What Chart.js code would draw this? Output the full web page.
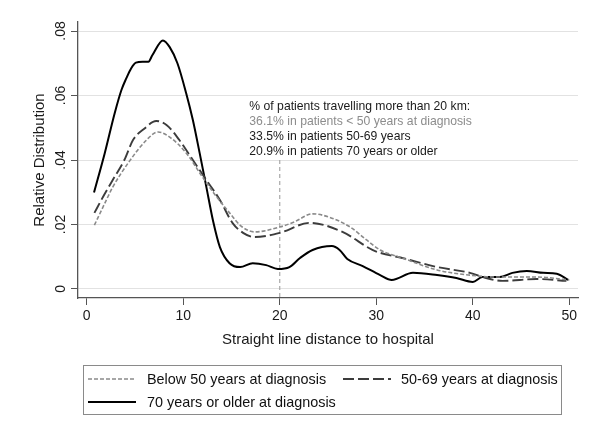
<!DOCTYPE html>
<html lang="en">
<head>
<meta charset="UTF-8">
<title>Relative distribution of distance to hospital</title>
<script src="https://cdn.jsdelivr.net/npm/chart.js"></script>
<style>
  body { margin: 0; background: #fff; font-family: "Liberation Sans", Arial, sans-serif; }
  #wrap { position: relative; width: 601px; height: 421px; }
  #legend { position: absolute; left: 83px; top: 365px; width: 477px; height: 48px; border: 1px solid #8a8a8a; }
  .item { position: absolute; height: 20px; font-size: 14.4px; color: #111; line-height: 20px; white-space: nowrap; }
  .item svg { position: absolute; top: 0; }
  .item span { position: absolute; top: 0; }
</style>
</head>
<body>
<div id="wrap">
  <canvas id="chart" width="601" height="421"></canvas>
  <div id="legend"></div>
</div>
<script>
// distances (km) and density
const distUnder50 = [0.8, 2.2, 2.7, 4.4, 6.2, 7.4, 8.6, 10.3, 12.0, 13.1, 14.8, 16.0, 17.4, 20, 21.5, 23.4, 25.2, 27.3, 29.0, 30.4, 32.7, 36.3, 39.7, 42.5, 46.6, 50];
const densUnder50 = [0.0198, 0.0286, 0.0316, 0.0395, 0.0462, 0.0487, 0.0471, 0.0422, 0.0347, 0.030, 0.0236, 0.0195, 0.0177, 0.0192, 0.0208, 0.0233, 0.0222, 0.0192, 0.0152, 0.0121, 0.0096, 0.0059, 0.0043, 0.0037, 0.0037, 0.0028];

const dist50to69 = [0.8, 1.7, 2.7, 3.9, 4.8, 6.0, 7.2, 8.3, 9.6, 11, 12.4, 13.8, 15.1, 16.2, 17.4, 20, 23.1, 26.5, 29.6, 30.4, 32.7, 36.3, 39.7, 41, 43.1, 46.6, 49.7];
const dens50to69 = [0.0236, 0.0286, 0.0338, 0.040, 0.0462, 0.0498, 0.0521, 0.0508, 0.0462, 0.040, 0.0338, 0.0276, 0.0205, 0.0174, 0.0161, 0.0174, 0.0205, 0.0177, 0.0121, 0.0112, 0.0096, 0.0068, 0.005, 0.0037, 0.0025, 0.0031, 0.0025];

const dist70plus = [0.76, 1.87, 2.9, 3.6, 4.1, 4.6, 5.1, 5.8, 6.4, 6.8, 7.9, 8.6, 9.4, 10.3, 11.0, 11.7, 12.4, 13.1, 13.8, 14.8, 15.9, 17.2, 18.6, 19.8, 21, 22.1, 23.4, 25.4, 26.2, 27, 28.6, 30.4, 31.6, 33.8, 36.3, 38.3, 40, 41, 42.8, 44.1, 45.6, 47.3, 48.7, 49.9];
const dens70plus = [0.0299, 0.0421, 0.0545, 0.0617, 0.0653, 0.0684, 0.0702, 0.0705, 0.0705, 0.0725, 0.0771, 0.075, 0.070, 0.0608, 0.0524, 0.0422, 0.0316, 0.021, 0.013, 0.008, 0.0068, 0.008, 0.0074, 0.0062, 0.0068, 0.0096, 0.0121, 0.0133, 0.0121, 0.0093, 0.0071, 0.0043, 0.0028, 0.005, 0.0043, 0.0034, 0.0022, 0.0037, 0.0037, 0.005, 0.0056, 0.005, 0.0047, 0.0028];

const seriesNames = ['Below 50 years at diagnosis', '50-69 years at diagnosis', '70 years or older at diagnosis'];

const xTicks = [0, 10, 20, 30, 40, 50];
const yTicks = [0, 0.02, 0.04, 0.06, 0.08];
const yTickLabels = ['0', '.02', '.04', '.06', '.08'];

const cutoffKm = 20;
const noteLines = [
  '% of patients travelling more than 20 km:',
  '36.1% in patients < 50 years at diagnosis',
  '33.5% in patients 50-69 years',
  '20.9% in patients 70 years or older'
];
const noteColors = ['#1a1a1a', '#8c8c8c', '#1a1a1a', '#1a1a1a'];

const FONT = '"Liberation Sans", Arial, sans-serif';

function pts(xs, ys) { return xs.map((x, i) => ({ x: x, y: ys[i] })); }

// extra drawing: rotated y labels, the 20 km line and the note
const overlay = {
  id: 'overlay',
  beforeDatasetsDraw(chart) {
    const { ctx, scales: { x, y }, chartArea } = chart;
    const px = x.getPixelForValue(cutoffKm);
    ctx.save();
    ctx.strokeStyle = '#a8a8a8';
    ctx.lineWidth = 1.2;
    ctx.setLineDash([4, 3]);
    ctx.beginPath();
    ctx.moveTo(px, y.getPixelForValue(0.04));
    ctx.lineTo(px, chartArea.bottom);
    ctx.stroke();
    ctx.restore();
  },
  afterDraw(chart) {
    const { ctx, scales: { x, y } } = chart;
    ctx.save();
    ctx.font = '14px ' + FONT;
    ctx.fillStyle = '#1a1a1a';
    ctx.textAlign = 'center';
    ctx.textBaseline = 'middle';
    yTicks.forEach((v, i) => {
      ctx.save();
      ctx.translate(61, y.getPixelForValue(v));
      ctx.rotate(-Math.PI / 2);
      ctx.fillText(yTickLabels[i], 0, 0);
      ctx.restore();
    });
    ctx.font = '12.2px ' + FONT;
    ctx.textAlign = 'left';
    const tx = x.getPixelForValue(16.85);
    const ty = y.getPixelForValue(0.0564);
    noteLines.forEach((t, i) => {
      ctx.fillStyle = noteColors[i];
      ctx.fillText(t, tx, ty + i * 14.7);
    });
    ctx.restore();
  }
};

const ctx = document.getElementById('chart').getContext('2d');
const chart = new Chart(ctx, {
  type: 'line',
  data: {
    datasets: [{
      label: seriesNames[0],
      data: pts(distUnder50, densUnder50),
      borderColor: '#8a8a8a',
      borderWidth: 1.6,
      borderDash: [4, 2]
    }, {
      label: seriesNames[1],
      data: pts(dist50to69, dens50to69),
      borderColor: '#3c3c3c',
      borderWidth: 1.9,
      borderDash: [11, 4]
    }, {
      label: seriesNames[2],
      data: pts(dist70plus, dens70plus),
      borderColor: '#000000',
      borderWidth: 2
    }]
  },
  options: {
    responsive: false,
    animation: false,
    devicePixelRatio: 1,
    layout: { padding: { left: 0, top: 22, right: 23, bottom: 63 } },
    elements: {
      point: { radius: 0 },
      line: { cubicInterpolationMode: 'monotone', fill: false }
    },
    plugins: { legend: { display: false }, tooltip: { enabled: false } },
    scales: {
      x: {
        type: 'linear',
        min: -0.9,
        max: 50.9,
        afterBuildTicks: s => { s.ticks = xTicks.map(v => ({ value: v })); },
        afterFit: s => { s.height = 60; },
        grid: { drawOnChartArea: false, drawTicks: true, tickLength: 7, tickColor: '#555', lineWidth: 1 },
        border: { color: '#555', width: 1.3 },
        ticks: { font: { family: FONT, size: 14 }, color: '#1a1a1a', padding: 3, maxRotation: 0 },
        title: { display: true, text: 'Straight line distance to hospital', font: { family: FONT, size: 15 }, color: '#1a1a1a', padding: { top: 0, bottom: 9 } }
      },
      y: {
        type: 'linear',
        min: -0.0028,
        max: 0.0828,
        afterBuildTicks: s => { s.ticks = yTicks.map(v => ({ value: v })); },
        afterFit: s => { s.width = 78; },
        grid: { color: '#e2e2e2', lineWidth: 1, drawTicks: true, tickLength: 7, tickColor: '#555' },
        border: { color: '#555', width: 1.3 },
        ticks: { display: false },
        title: { display: true, text: 'Relative Distribution', font: { family: FONT, size: 15 }, color: '#1a1a1a', padding: { top: 31, bottom: 0 } }
      }
    }
  },
  plugins: [overlay]
});

// legend box below the plot
const legend = document.getElementById('legend');
const samples = [
  { left: 4, top: 3, dash: '4 2', color: '#8a8a8a', w: 1.6, textLeft: 63 },
  { left: 259, top: 3, dash: '11 4', color: '#3c3c3c', w: 1.9, textLeft: 317 },
  { left: 4, top: 26, dash: '', color: '#000', w: 2, textLeft: 63 }
];
samples.forEach((s, i) => {
  const d = document.createElement('div');
  d.className = 'item';
  d.style.left = s.left + 'px';
  d.style.top = s.top + 'px';
  d.innerHTML = '<svg width="48" height="20"><line x1="0" y1="10" x2="48" y2="10" stroke="' + s.color +
    '" stroke-width="' + s.w + '"' + (s.dash ? ' stroke-dasharray="' + s.dash + '"' : '') + '/></svg>' +
    '<span style="left:' + (s.textLeft - s.left) + 'px">' + seriesNames[i] + '</span>';
  legend.appendChild(d);
});
</script>
</body>
</html>
